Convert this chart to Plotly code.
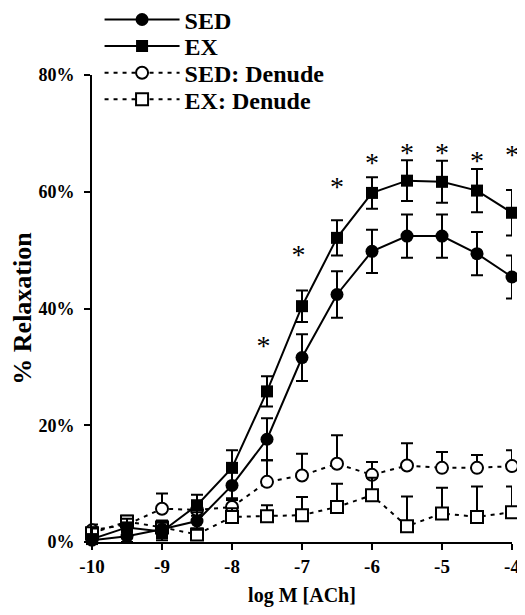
import plotly.graph_objects as go

conc = [-10, -9.5, -9, -8.5, -8, -7.5, -7, -6.5, -6, -5.5, -5, -4.5, -4]

sed = [0.3, 1.0, 2.2, 3.6, 9.7, 17.6, 31.6, 42.4, 49.8, 52.4, 52.4, 49.4, 45.4]
sed_err = [0.8, 1.0, 1.5, 1.5, 2.5, 3.6, 4.0, 4.0, 3.7, 3.7, 3.7, 3.7, 3.7]

ex = [0.5, 2.5, 1.8, 6.3, 12.7, 25.8, 40.4, 52.1, 59.8, 61.9, 61.7, 60.2, 56.4]
ex_err = [1.8, 1.5, 1.5, 1.8, 3.0, 2.6, 2.7, 3.0, 2.7, 3.5, 3.6, 3.7, 3.9]

sed_den = [2.0, 3.0, 5.7, 5.5, 6.0, 10.3, 11.4, 13.4, 11.5, 13.1, 12.7, 12.7, 13.0]
sed_den_err = [1.0, 1.0, 2.6, 1.5, 1.5, 3.7, 3.7, 4.9, 2.2, 3.8, 2.7, 2.2, 2.7]

ex_den = [1.5, 3.5, 2.5, 1.3, 4.3, 4.4, 4.6, 6.0, 8.0, 2.7, 4.9, 4.3, 5.1]
ex_den_err = [1.0, 1.0, 1.0, 1.0, 1.5, 1.9, 3.1, 4.0, 3.0, 5.1, 4.4, 5.2, 4.4]

sig_x = [-7.55, -7.05, -6.5, -6, -5.5, -5, -4.5, -4]
sig_y = [33.2, 48.9, 60.4, 64.5, 66.3, 66.3, 64.9, 66.0]

x_ticks = [-10, -9, -8, -7, -6, -5, -4]
y_ticks = [0, 20, 40, 60, 80]

FONT = "Liberation Serif"
BLACK = "black"

fig = go.Figure()

def err(up, sym=True):
    d = dict(type="data", array=up, color=BLACK, thickness=2, width=6, visible=True)
    if not sym:
        d["symmetric"] = False
        d["arrayminus"] = [0] * len(up)
    return d

fig.add_trace(go.Scatter(
    x=conc, y=sed_den, name="SED: Denude", mode="lines+markers", legend="legend3",
    line=dict(color=BLACK, width=2, dash="4px,5px"),
    marker=dict(symbol="circle", size=12, color="white", line=dict(color=BLACK, width=2)),
    error_y=err(sed_den_err, sym=False), cliponaxis=False))

fig.add_trace(go.Scatter(
    x=conc, y=ex_den, name="EX: Denude", mode="lines+markers", legend="legend4",
    line=dict(color=BLACK, width=2, dash="4px,5px"),
    marker=dict(symbol="square", size=12, color="white", line=dict(color=BLACK, width=2)),
    error_y=err(ex_den_err, sym=False), cliponaxis=False))

fig.add_trace(go.Scatter(
    x=conc, y=sed, name="SED", mode="lines+markers", legend="legend",
    line=dict(color=BLACK, width=2),
    marker=dict(symbol="circle", size=13, color=BLACK),
    error_y=err(sed_err), cliponaxis=False))

fig.add_trace(go.Scatter(
    x=conc, y=ex, name="EX", mode="lines+markers", legend="legend2",
    line=dict(color=BLACK, width=2),
    marker=dict(symbol="square", size=12, color=BLACK),
    error_y=err(ex_err), cliponaxis=False))

fig.add_trace(go.Scatter(
    x=sig_x, y=sig_y, mode="text", text=["*"] * len(sig_x), showlegend=False,
    textfont=dict(family=FONT, size=28, color=BLACK), cliponaxis=False,
    textposition="middle center", hoverinfo="skip"))

def leg(yp):
    return dict(
        x=0.018, y=yp, xanchor="left", yanchor="middle",
        font=dict(family=FONT, size=24, color=BLACK, weight="bold"),
        itemwidth=75, bgcolor="rgba(0,0,0,0)",
    )

# the page body adds an 8px offset; figure sized so it fills the 525x615 window
fig.update_layout(
    width=517, height=607,
    margin=dict(l=84, r=13, t=67, b=73, autoexpand=False),
    paper_bgcolor="white", plot_bgcolor="white",
    font=dict(family=FONT, color=BLACK),
    showlegend=True,
    legend=leg(1.118), legend2=leg(1.061), legend3=leg(1.004), legend4=leg(0.947),
    xaxis=dict(
        range=[-10, -4], tickvals=x_ticks, ticktext=[str(v) for v in x_ticks],
        showgrid=False, zeroline=False, showline=True, linecolor=BLACK, linewidth=2,
        ticks="outside", ticklen=6, tickwidth=2, tickcolor=BLACK,
        tickfont=dict(family=FONT, size=19, color=BLACK, weight="bold"),
        title=dict(text="log M [ACh]", font=dict(family=FONT, size=20, color=BLACK, weight="bold"), standoff=12),
    ),
    yaxis=dict(
        range=[0, 80], tickvals=y_ticks, ticktext=[f"{v}%" for v in y_ticks],
        showgrid=False, zeroline=False, showline=True, linecolor=BLACK, linewidth=2,
        ticks="outside", ticklen=6, tickwidth=2, tickcolor=BLACK,
        ticklabelstandoff=6,
        tickfont=dict(family=FONT, size=18, color=BLACK, weight="bold"),
        title=dict(text="% Relaxation", font=dict(family=FONT, size=26, color=BLACK, weight="bold"), standoff=4),
    ),
)

fig.write_html("out.html")
